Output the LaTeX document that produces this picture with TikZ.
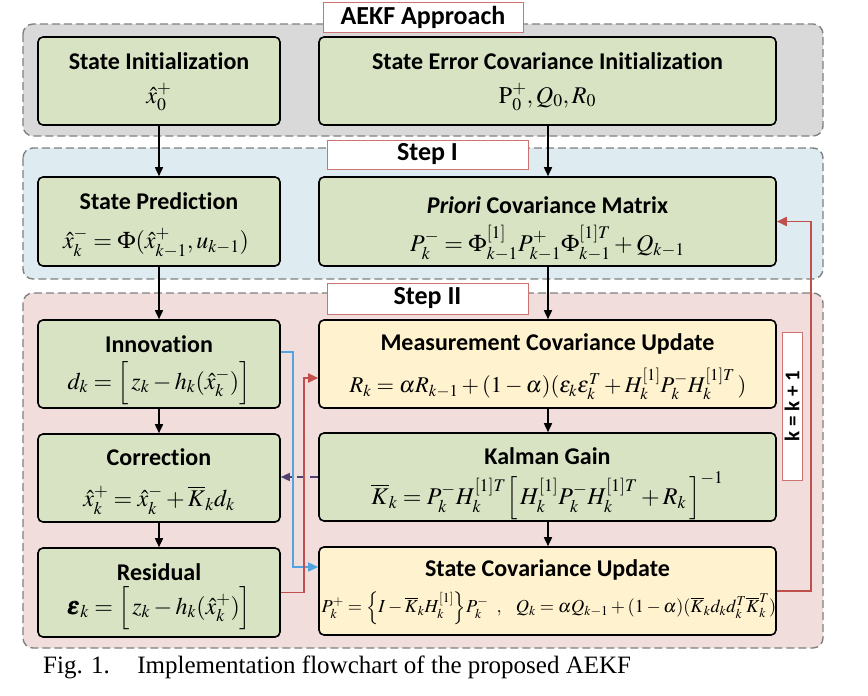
\documentclass[tikz,border=0pt]{standalone}
\usepackage{mathptmx}
\usepackage{bm}
\usepackage[no-math]{fontspec}
\setmainfont{Liberation Serif}
\newfontfamily\carl{Carlito}[Ligatures=NoCommon]
\usetikzlibrary{arrows.meta}
\definecolor{gfill}{RGB}{216,227,195}
\definecolor{yfill}{RGB}{255,242,206}
\definecolor{grayreg}{RGB}{217,217,217}
\definecolor{bluereg}{RGB}{222,235,241}
\definecolor{pinkreg}{RGB}{240,221,220}
\definecolor{dashgray}{RGB}{128,128,128}
\definecolor{redln}{RGB}{192,80,77}
\definecolor{blueln}{RGB}{80,165,225}
\definecolor{purpln}{RGB}{80,65,115}
\newcommand{\Kb}{\overline{K}}
\tikzset{
  region/.style={draw=dashgray, line width=1.4pt, dash pattern=on 8pt off 4pt, rounded corners=10pt},
  box/.style={draw=black, line width=1.6pt, rounded corners=5pt, inner sep=0pt},
  gbox/.style={box, fill=gfill},
  ybox/.style={box, fill=yfill},
  ttl/.style={font=\carl\bfseries\fontsize{24}{26}\selectfont, inner sep=0pt},
  eqn/.style={font=\fontsize{24}{28}\selectfont, inner sep=0pt},
  lbl/.style={draw=redln!80, line width=0.8pt, fill=white, inner sep=0pt, font=\carl\bfseries\fontsize{26}{28}\selectfont},
  arr/.style={line width=1.6pt, -{Triangle[length=9pt,width=8pt]}},
  redarr/.style={draw=redln, line width=1.8pt, -{Triangle[length=10pt,width=9pt]}},
  bluearr/.style={draw=blueln, line width=1.5pt, -{Triangle[length=10pt,width=9pt]}},
  purparr/.style={draw=purpln, line width=1.5pt, dash pattern=on 8pt off 5pt, -{Triangle[length=9pt,width=8pt]}}
}
\begin{document}
\begin{tikzpicture}[x=1pt,y=-1pt]
\useasboundingbox (0,0) rectangle (868,696);
% regions
\fill[white] (0,0) rectangle (868,696);
\draw[region, fill=grayreg] (23,24) rectangle (823,136);
\draw[region, fill=bluereg] (23,148) rectangle (823,279);
\draw[region, fill=pinkreg] (23,293) rectangle (823,648);
% labels
\node[lbl, minimum width=200pt, minimum height=30pt] (lA) at (423,17) {AEKF Approach};
\node[lbl, minimum width=201pt, minimum height=29pt] (lB) at (427.5,154.5) {Step I};
\node[lbl, minimum width=201pt, minimum height=31pt] (lC) at (427.5,298.5) {Step II};
% boxes
\node[gbox, minimum width=242pt, minimum height=88pt] (init) at (159,81) {};
\node[gbox, minimum width=457pt, minimum height=88pt] (seci) at (547.5,81) {};
\node[gbox, minimum width=242pt, minimum height=89pt] (pred) at (159,221.5) {};
\node[gbox, minimum width=457pt, minimum height=89pt] (prio) at (547.5,221.5) {};
\node[gbox, minimum width=242pt, minimum height=88pt] (innov) at (159,364) {};
\node[ybox, minimum width=457pt, minimum height=88pt] (meas) at (547.5,364) {};
\node[gbox, minimum width=242pt, minimum height=88pt] (corr) at (159,478) {};
\node[gbox, minimum width=457pt, minimum height=88pt] (kal) at (547.5,477) {};
\node[gbox, minimum width=242pt, minimum height=89pt] (resid) at (159,592.5) {};
\node[ybox, minimum width=457pt, minimum height=88pt] (scu) at (547.5,591) {};
% titles
\node[ttl] (initT) at (159,61) {State Initialization};
\node[ttl] (seciT) at (547.5,61) {State Error Covariance Initialization};
\node[ttl] (predT) at (159,201) {State Prediction};
\node[ttl] (prioT) at (547.5,205) {\itshape Priori\upshape\ Covariance Matrix};
\node[ttl] (innovT) at (159,344) {Innovation};
\node[ttl] (measT) at (547.5,344) {Measurement Covariance Update};
\node[ttl] (corrT) at (159,457) {Correction};
\node[ttl] (kalT) at (547.5,456) {Kalman Gain};
\node[ttl] (residT) at (159,572) {Residual};
\node[ttl] (scuT) at (547.5,570) {State Covariance Update};
% equations
\node[eqn] (initE) at (159,97) {$\hat{x}_0^+$};
\node[eqn] (seciE) at (547.5,97) {$\mathrm{P}_0^+, Q_0, R_0$};
\node[eqn] (predE) at (156,243) {$\hat{x}_k^- = \Phi(\hat{x}_{k-1}^+, u_{k-1})$};
\node[eqn] (prioE) at (547.5,243) {$P_k^- = \Phi_{k-1}^{[1]} P_{k-1}^+ \Phi_{k-1}^{[1]T} + Q_{k-1}$};
\node[eqn] (innovE) at (159,383) {$d_k = \Big[\, z_k - h_k(\hat{x}_k^-) \Big]$};
\node[eqn, font=\fontsize{22.5}{26}\selectfont] (measE) at (548,384) {$R_k = \alpha R_{k-1} + (1-\alpha)(\varepsilon_k \varepsilon_k^T + H_k^{[1]} P_k^- H_k^{[1]T}\,)$};
\node[eqn] (corrE) at (159,500) {$\hat{x}_k^+ = \hat{x}_k^- + \Kb_k d_k$};
\node[eqn] (kalE) at (547.5,496) {$\Kb_k = P_k^- H_k^{[1]T} \Big[\, H_k^{[1]} P_k^- H_k^{[1]T} + R_k \,\Big]^{-1}$};
\node[eqn] (residE) at (159,608) {$\bm{\varepsilon}_k = \Big[\, z_k - h_k(\hat{x}_k^+) \Big]$};
\node[eqn, font=\fontsize{18.3}{22}\selectfont] (scuE) at (549,608) {$P_k^+ = \Big\{ I - \Kb_k H_k^{[1]} \Big\} P_k^-\;\;,\;\;\; Q_k = \alpha Q_{k-1} + (1-\alpha)(\Kb_k d_k d_k^T \Kb_k^T)$};
% k = k + 1
\node[draw=redln!80, line width=0.8pt, fill=white, minimum width=148pt, minimum height=20pt, inner sep=0pt, rotate=90, font=\carl\bfseries\fontsize{21}{22}\selectfont] (kk) at (792,406) {k = k + 1};
% arrows
\draw[arr] (init.south) -- (pred.north);
\draw[arr] ([xshift=0.5pt]seci.south) -- ([xshift=0.5pt]prio.north);
\draw[arr] (pred.south) -- (innov.north);
\draw[arr] (innov.south) -- (corr.north);
\draw[arr] (corr.south) -- (resid.north);
\draw[arr] ([xshift=0.5pt]prio.south) -- ([xshift=0.5pt]meas.north);
\draw[arr] ([xshift=0.5pt]meas.south) -- ([xshift=0.5pt]kal.north);
\draw[arr] ([xshift=0.5pt]kal.south) -- ([xshift=0.5pt]scu.north);
\draw[purparr] (kal.west) -- (kal.west -| corr.east);
\draw[bluearr] ([yshift=12pt]innov.east) -- ++(12,0) |- ([yshift=24pt]scu.west);
\draw[redarr] (resid.east) -- ++(23,0) |- ([yshift=-14pt]meas.west);
\draw[redarr] (scu.east) -- ++(34,0) |- (prio.east);
% caption
\node[anchor=base west, inner sep=0pt, font=\fontsize{25}{27}\selectfont] (cap) at (43,673) {Fig. 1.\hspace{1.1em}Implementation flowchart of the proposed AEKF};
\end{tikzpicture}
\end{document}
